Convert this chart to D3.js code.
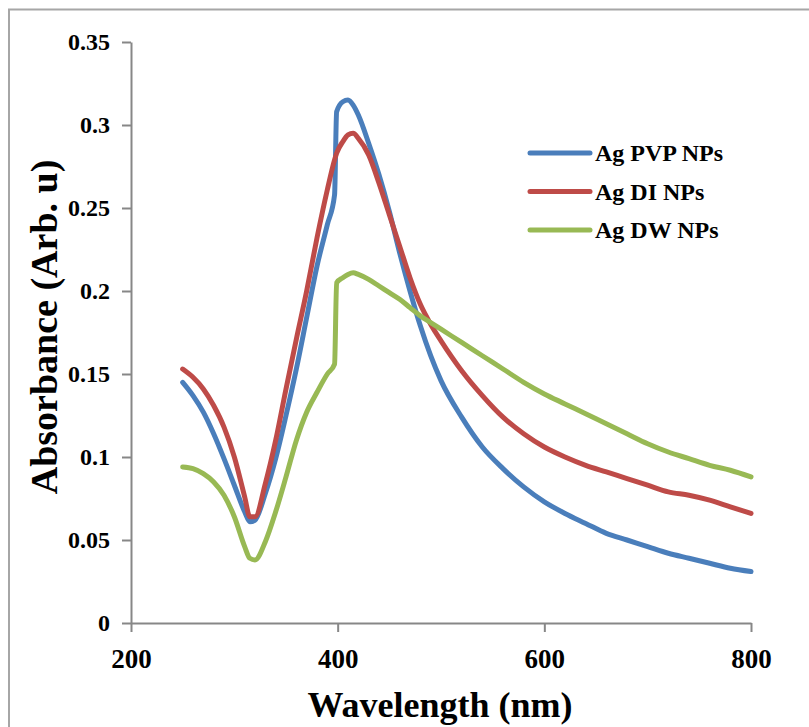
<!DOCTYPE html>
<html>
<head>
<meta charset="utf-8">
<script src="https://cdn.jsdelivr.net/npm/d3@7"></script>
<style>
  body { margin: 0; background: #fff; }
  text { font-family: "Liberation Serif", "Times New Roman", serif; font-weight: bold; fill: #000; }
</style>
</head>
<body>
<div id="chart"></div>
<script>
// wavelength grid (nm) shared by the three spectra
const wavelengths = [250, 260, 270, 280, 290, 300, 310, 315, 320, 330, 340, 350, 360, 370, 380, 390, 397, 399,
  405, 410, 415, 420, 430, 440, 450, 460, 470, 480, 490, 500, 520, 540, 560, 580, 600, 620, 640, 660, 680,
  700, 720, 740, 760, 780, 800];

const pvpAbs = [0.145, 0.137, 0.127, 0.114, 0.099, 0.083, 0.067, 0.061, 0.062, 0.078, 0.099, 0.125, 0.153,
  0.184, 0.215, 0.240, 0.258, 0.308, 0.314, 0.315, 0.312, 0.306, 0.289, 0.270, 0.248, 0.223, 0.200, 0.179,
  0.161, 0.146, 0.124, 0.106, 0.093, 0.082, 0.073, 0.066, 0.060, 0.054, 0.050, 0.046, 0.042, 0.039, 0.036,
  0.033, 0.031];

const diAbs = [0.153, 0.148, 0.141, 0.131, 0.118, 0.100, 0.076, 0.064, 0.064, 0.084, 0.110, 0.141, 0.171,
  0.200, 0.232, 0.261, 0.279, 0.283, 0.290, 0.294, 0.295, 0.292, 0.282, 0.265, 0.246, 0.227, 0.208, 0.192,
  0.180, 0.170, 0.152, 0.137, 0.124, 0.114, 0.106, 0.100, 0.095, 0.091, 0.087, 0.083, 0.079, 0.077, 0.074,
  0.070, 0.066];

const dwAbs = [0.094, 0.093, 0.090, 0.085, 0.077, 0.064, 0.046, 0.039, 0.038, 0.049, 0.067, 0.088, 0.110,
  0.127, 0.139, 0.150, 0.156, 0.205, 0.208, 0.210, 0.211, 0.210, 0.207, 0.203, 0.199, 0.195, 0.190, 0.185,
  0.181, 0.177, 0.169, 0.161, 0.153, 0.145, 0.138, 0.132, 0.126, 0.120, 0.114, 0.108, 0.103, 0.099, 0.095,
  0.092, 0.088];

const seriesNames = ["Ag PVP NPs", "Ag DI NPs", "Ag DW NPs"];
const seriesColors = ["#4a7ebb", "#be4b48", "#98b954"];
const xTicks = [200, 400, 600, 800];
const yTicks = [0, 0.05, 0.1, 0.15, 0.2, 0.25, 0.3, 0.35];

const width = 809, height = 727;
const margin = {top: 42, right: 58, bottom: 104, left: 131};

const svg = d3.select("#chart").append("svg")
  .attr("width", width)
  .attr("height", height);

// outer frame
svg.append("rect")
  .attr("x", 9).attr("y", 9.5)
  .attr("width", 820).attr("height", 740)
  .attr("fill", "none")
  .attr("stroke", "#a6a6a6")
  .attr("stroke-width", 2);

const x = d3.scaleLinear().domain([200, 800]).range([margin.left, width - margin.right]);
const y = d3.scaleLinear().domain([0, 0.35]).range([height - margin.bottom, margin.top]);

const axisColor = "#878787";

const xAxis = svg.append("g")
  .attr("transform", `translate(0,${y(0)})`)
  .call(d3.axisBottom(x).tickValues(xTicks).tickSize(9).tickSizeOuter(0).tickFormat(d3.format("d")));
xAxis.selectAll("text")
  .attr("y", 45).attr("dy", 0)
  .style("font-size", "27px");

const yAxis = svg.append("g")
  .attr("transform", `translate(${x(200)},0)`)
  .call(d3.axisLeft(y).tickValues(yTicks).tickSize(9).tickSizeOuter(0)
    .tickFormat(d => String(+d.toFixed(2))));
yAxis.selectAll("text")
  .attr("x", -21)
  .style("font-size", "24px");

svg.selectAll(".domain, .tick line")
  .attr("stroke", axisColor)
  .attr("stroke-width", 2);

// axis titles
svg.append("text")
  .attr("x", 440).attr("y", 717)
  .attr("text-anchor", "middle")
  .style("font-size", "36px")
  .text("Wavelength (nm)");

svg.append("text")
  .attr("transform", "translate(57,327) rotate(-90)")
  .attr("text-anchor", "middle")
  .style("font-size", "38px")
  .text("Absorbance (Arb. u)");

// spectra
const allAbs = [pvpAbs, diAbs, dwAbs];
const line = d3.line()
  .x(d => x(d[0]))
  .y(d => y(d[1]))
  .curve(d3.curveMonotoneX);

allAbs.forEach((vals, i) => {
  svg.append("path")
    .datum(wavelengths.map((w, j) => [w, vals[j]]))
    .attr("fill", "none")
    .attr("stroke", seriesColors[i])
    .attr("stroke-width", 5)
    .attr("stroke-linejoin", "round")
    .attr("stroke-linecap", "round")
    .attr("d", line);
});

// legend
const legend = svg.append("g").attr("transform", "translate(528,153)");
seriesNames.forEach((name, i) => {
  const g = legend.append("g").attr("transform", `translate(0,${i * 38.5})`);
  g.append("line")
    .attr("x1", 2).attr("x2", 62)
    .attr("stroke", seriesColors[i])
    .attr("stroke-width", 5)
    .attr("stroke-linecap", "round");
  g.append("text")
    .attr("x", 67).attr("y", 8)
    .style("font-size", "24px")
    .text(name);
});
</script>
</body>
</html>
